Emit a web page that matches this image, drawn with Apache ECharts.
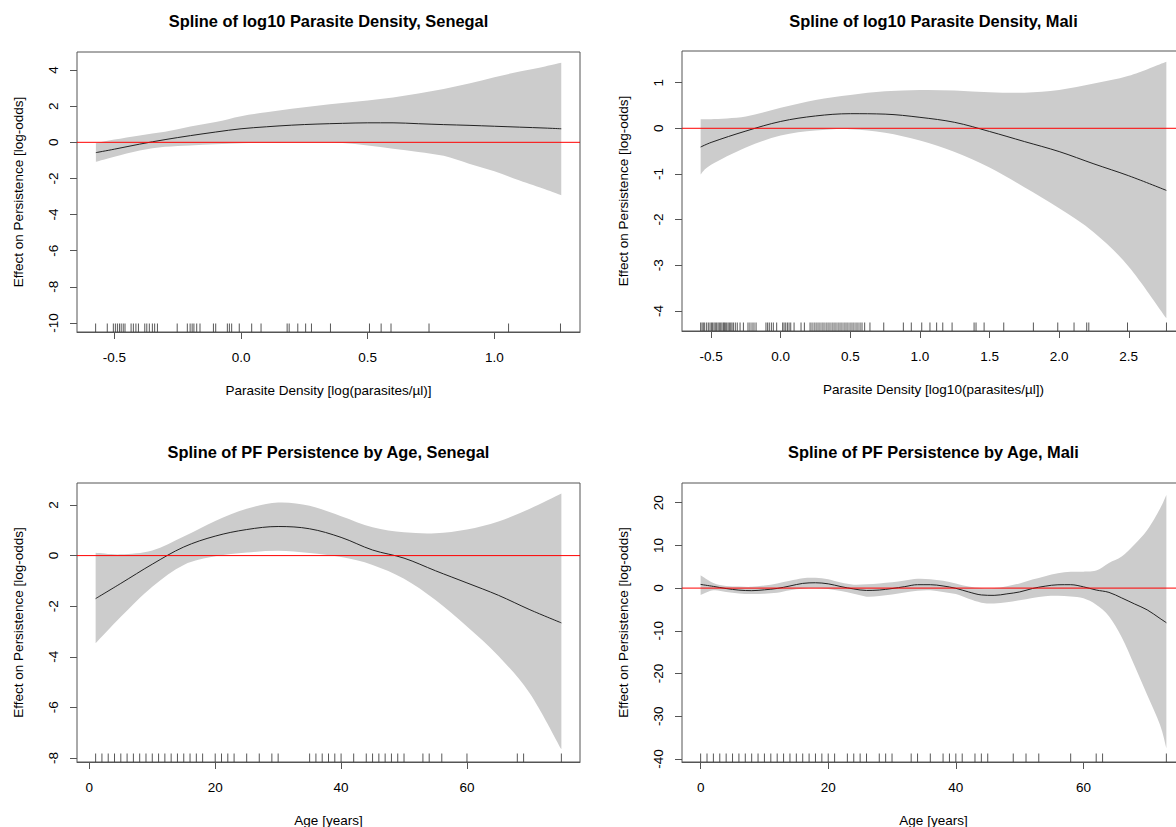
<!DOCTYPE html>
<html><head><meta charset="utf-8">
<script src="https://cdn.jsdelivr.net/npm/echarts@6/dist/echarts.min.js"></script>
<style>html,body{margin:0;padding:0;background:#fff}#c{width:1176px;height:827px}</style>
</head><body><div id="c"></div>
<script>
// ---------- text ----------
const titles = [
  'Spline of log10 Parasite Density, Senegal',
  'Spline of log10 Parasite Density, Mali',
  'Spline of PF Persistence by Age, Senegal',
  'Spline of PF Persistence by Age, Mali'
];
const xNames = [
  'Parasite Density [log(parasites/\u00b5l)]',
  'Parasite Density [log10(parasites/\u00b5l])',
  'Age [years]',
  'Age [years]'
];
const yName = 'Effect on Persistence [log-odds]';

// ---------- panel 1: log10 density, Senegal ----------
const p1X   = [-0.573,-0.5,-0.4,-0.3,-0.2,-0.1,0,0.1,0.2,0.3,0.4,0.5,0.6,0.7,0.8,0.9,1.0,1.1,1.2,1.264];
const p1Fit = [-0.57,-0.38,-0.1,0.15,0.37,0.57,0.75,0.86,0.95,1.01,1.05,1.08,1.08,1.03,0.98,0.94,0.89,0.84,0.79,0.75];
const p1Hi  = [-0.05,0.15,0.38,0.58,0.87,1.12,1.45,1.66,1.86,2.02,2.17,2.32,2.48,2.7,2.95,3.25,3.6,3.92,4.2,4.4];
const p1Lo  = [-1.08,-0.8,-0.45,-0.25,-0.17,-0.1,-0.05,-0.03,-0.01,-0.01,-0.04,-0.18,-0.35,-0.53,-0.75,-1.18,-1.6,-2.12,-2.6,-2.93];
const p1Rug = [-0.574,-0.528,-0.504,-0.496,-0.488,-0.480,-0.473,-0.465,-0.458,-0.434,-0.425,-0.415,-0.405,-0.380,-0.372,-0.362,-0.350,-0.341,-0.330,-0.252,-0.212,-0.201,-0.193,-0.186,-0.175,-0.162,-0.109,-0.100,-0.054,-0.046,-0.037,-0.007,0.042,0.079,0.182,0.190,0.224,0.255,0.278,0.353,0.507,0.553,0.592,0.742,1.056,1.261];
const p1XTicks = [-0.5,0,0.5,1.0];
const p1YTicks = [-10,-8,-6,-4,-2,0,2,4];

// ---------- panel 2: log10 density, Mali ----------
const p2X   = [-0.575,-0.5,-0.25,0,0.25,0.5,0.75,1.0,1.25,1.5,1.75,2.0,2.25,2.5,2.77];
const p2Fit = [-0.41,-0.31,-0.06,0.15,0.27,0.32,0.31,0.24,0.13,-0.07,-0.29,-0.51,-0.78,-1.04,-1.36];
const p2Hi  = [0.2,0.2,0.26,0.45,0.62,0.73,0.81,0.84,0.83,0.79,0.78,0.84,0.98,1.15,1.46];
const p2Lo  = [-1.01,-0.8,-0.42,-0.16,-0.05,-0.02,-0.1,-0.27,-0.52,-0.86,-1.29,-1.75,-2.28,-3.03,-4.16];
const p2Rug = [-0.575,-0.565,-0.556,-0.546,-0.532,-0.520,-0.508,-0.498,-0.489,-0.479,-0.470,-0.460,-0.450,-0.441,-0.431,-0.422,-0.412,-0.405,-0.398,-0.388,-0.378,-0.369,-0.359,-0.350,-0.340,-0.326,-0.312,-0.292,-0.268,
  -0.235,-0.221,-0.206,-0.192,-0.177,-0.106,-0.094,-0.082,-0.067,-0.053,-0.029,0.014,0.024,0.036,0.048,0.060,0.072,0.096,0.146,0.170,
  0.211,0.225,0.240,0.254,0.268,0.282,0.297,0.311,0.326,0.340,0.354,0.369,0.383,0.397,0.412,0.426,0.440,0.455,0.469,0.483,0.498,0.512,0.526,0.541,0.555,0.570,0.584,0.603,0.641,
  0.740,0.881,0.938,1.013,1.072,1.120,1.164,1.231,1.389,1.403,1.461,1.602,1.815,1.990,2.107,2.198,2.213,2.491,2.771];
const p2XTicks = [-0.5,0,0.5,1.0,1.5,2.0,2.5];
const p2YTicks = [-4,-3,-2,-1,0,1];

// ---------- panel 3: age, Senegal ----------
const p3X   = [1,5,10,15,20,25,30,35,40,45,50,55,60,65,70,75];
const p3Fit = [-1.70,-1.1,-0.34,0.34,0.77,1.03,1.15,1.06,0.72,0.22,-0.1,-0.6,-1.08,-1.57,-2.14,-2.66];
const p3Hi  = [0.11,0.05,0.2,0.75,1.37,1.85,2.1,1.97,1.56,1.12,0.92,0.88,1.03,1.35,1.85,2.45];
const p3Lo  = [-3.47,-2.42,-1.23,-0.37,-0.03,0.12,0.19,0.1,-0.06,-0.37,-0.92,-1.76,-2.8,-3.97,-5.45,-7.66];
const p3Rug = [1,2,3,4,5,6,7,8,9,10,11,12,13,14,15,16,17,18,20,21,22,23,25,27,29,30,35,36,37,38,39,40,42,44,45,46,47,48,49,50,53,54,56,60,68,69,75];
const p3XTicks = [0,20,40,60];
const p3YTicks = [-8,-6,-4,-2,0,2];

// ---------- panel 4: age, Mali ----------
const p4X   = [0,2,4,6,8,10,12,14,16,18,20,22,24,26,28,30,32,34,36,38,40,42,44,46,48,50,52,54,56,58,60,62,64,66,68,70,72,73];
const p4Fit = [0.86,0.4,-0.1,-0.47,-0.6,-0.4,-0.08,0.5,1.1,1.25,1.0,0.35,-0.2,-0.55,-0.45,-0.1,0.35,0.8,0.8,0.5,-0.05,-0.9,-1.6,-1.7,-1.35,-0.9,-0.1,0.45,0.78,0.8,0.3,-0.45,-1.0,-2.3,-3.7,-5.1,-7.1,-8.1];
const p4Hi  = [3.0,1.2,0.5,0.35,0.3,0.6,1.1,1.7,2.3,2.4,2.1,1.3,0.8,0.9,1.1,1.35,1.8,2.2,2.1,1.7,1.1,0.35,0.0,0.0,0.45,1.1,2.0,2.8,3.5,3.8,3.85,4.1,5.9,7.4,10.2,13.6,18.6,21.8];
const p4Lo  = [-1.6,-0.5,-0.9,-1.25,-1.4,-1.3,-1.1,-0.5,-0.15,-0.05,-0.2,-0.7,-1.35,-2.0,-1.85,-1.5,-1.05,-0.6,-0.5,-0.9,-1.4,-2.5,-3.4,-3.6,-3.3,-2.85,-2.3,-1.9,-1.8,-1.95,-2.4,-3.9,-6.6,-11.5,-18.1,-25.0,-32.0,-37.5];
const p4Rug = [0,1,2,3,4,5,6,7,8,9,10,11,12,13,14,15,16,17,18,19,20,21,23,24,25,26,28,29,30,33,34,36,38,39,40,41,43,44,45,49,51,53,58,62,63,73];
const p4XTicks = [0,20,40,60];
const p4YTicks = [-40,-30,-20,-10,0,10,20];

// ---------- layout / styling ----------
const FONT = '"Liberation Sans", Arial, Helvetica, sans-serif';
const panels = [
  {x:p1X, fit:p1Fit, hi:p1Hi, lo:p1Lo, rug:p1Rug, xt:p1XTicks, yt:p1YTicks, dec:1,
   xr:[-0.6475,1.338], yr:[-10.5,5.0], rect:{left:77, top:52, width:503, height:280}},
  {x:p2X, fit:p2Fit, hi:p2Hi, lo:p2Lo, rug:p2Rug, xt:p2XTicks, yt:p2YTicks, dec:1,
   xr:[-0.709,2.904], yr:[-4.44,1.693], rect:{left:682, top:51, width:503, height:280}},
  {x:p3X, fit:p3Fit, hi:p3Hi, lo:p3Lo, rug:p3Rug, xt:p3XTicks, yt:p3YTicks, dec:0,
   xr:[-1.96,77.96], yr:[-8.16,2.87], rect:{left:77, top:483, width:503, height:279}},
  {x:p4X, fit:p4Fit, hi:p4Hi, lo:p4Lo, rug:p4Rug, xt:p4XTicks, yt:p4YTicks, dec:0,
   xr:[-2.92,75.92], yr:[-40.7,24.6], rect:{left:682, top:483, width:503, height:279}}
];

const grid = [], xAxis = [], yAxis = [], series = [], title = [];
const txt = (size, weight) => ({fontFamily: FONT, fontSize: size, color: '#000', fontWeight: weight || 'normal'});

// Catmull-Rom segments through screen points (rendering only)
function crSegments(pts) {
  let d = '';
  for (let k = 0; k < pts.length - 1; k++) {
    const p0 = pts[Math.max(k - 1, 0)], p1 = pts[k], p2 = pts[k + 1], p3 = pts[Math.min(k + 2, pts.length - 1)];
    const c1 = [p1[0] + (p2[0] - p0[0]) / 6, p1[1] + (p2[1] - p0[1]) / 6];
    const c2 = [p2[0] - (p3[0] - p1[0]) / 6, p2[1] - (p3[1] - p1[1]) / 6];
    d += ' C' + c1[0] + ',' + c1[1] + ' ' + c2[0] + ',' + c2[1] + ' ' + p2[0] + ',' + p2[1];
  }
  return d;
}

panels.forEach((p, i) => {
  grid.push(Object.assign({show:true, borderColor:'#555', borderWidth:1, backgroundColor:'transparent',
    containLabel:false, outerBoundsMode:'none'}, p.rect));
  title.push({text: titles[i], left: p.rect.left + p.rect.width/2, top: (i < 2 ? 12 : 443),
    textAlign:'center', padding:0, textStyle: Object.assign(txt(16.4,'bold'), {lineHeight:17})});
  xAxis.push({type:'value', gridIndex:i, min:p.xr[0], max:p.xr[1], position:'bottom', z:3,
    axisLine:{show:true, onZero:false, lineStyle:{color:'#555', width:1}}, splitLine:{show:false},
    axisTick:{show:true, inside:false, length:7, lineStyle:{color:'#555', width:1}, customValues:p.xt},
    axisLabel:Object.assign({show:true, margin:18, customValues:p.xt,
      formatter: v => p.dec ? Number(v).toFixed(p.dec) : String(Math.round(v))}, txt(13.5)),
    name:xNames[i], nameLocation:'middle', nameGap:51, nameTextStyle:Object.assign(txt(13.5), {lineHeight:15})});
  yAxis.push({type:'value', gridIndex:i, min:p.yr[0], max:p.yr[1], position:'left',
    axisLine:{show:false, onZero:false}, splitLine:{show:false},
    axisTick:{show:true, inside:false, length:7, lineStyle:{color:'#555', width:1}, customValues:p.yt},
    axisLabel:Object.assign({show:true, margin:17, rotate:90, customValues:p.yt,
      formatter: v => String(Math.round(v))}, txt(13.5)),
    name:yName, nameLocation:'middle', nameGap:51, nameRotate:90, nameTextStyle:Object.assign(txt(13.5), {lineHeight:15})});

  // confidence band as one closed smooth shape, positioned with the axes' scales
  series.push({type:'custom', xAxisIndex:i, yAxisIndex:i, silent:true, clip:false, z:1,
    data:[[p.x[0], p.hi[0]]],
    renderItem: (params, api) => {
      const up = p.x.map((v,k) => api.coord([v, p.hi[k]]));
      const lo = p.x.map((v,k) => api.coord([v, p.lo[k]])).reverse();
      const d = 'M' + up[0][0] + ',' + up[0][1] + crSegments(up) +
                ' L' + lo[0][0] + ',' + lo[0][1] + crSegments(lo) + ' Z';
      return {type:'path', shape:{pathData:d}, style:{fill:'#cccccc', stroke:null}};
    }});
  // fitted spline
  series.push({type:'line', xAxisIndex:i, yAxisIndex:i, data:p.x.map((v,k)=>[v, p.fit[k]]),
    symbol:'none', smooth:0.35, silent:true, lineStyle:{color:'#222', width:1}, z:3});
  // rug
  series.push({type:'scatter', xAxisIndex:i, yAxisIndex:i, clip:false, silent:true,
    data:p.rug.map(v => [v, p.yr[0]]), symbol:'rect', symbolSize:[1,8.4], symbolOffset:[0,-4.2],
    itemStyle:{color:'#3a3a3a', opacity:0.85}, z:5});
  // zero reference line (drawn last, as abline in R)
  series.push({type:'line', xAxisIndex:i, yAxisIndex:i, data:[[p.xr[0],0],[p.xr[1],0]],
    symbol:'none', silent:true, clip:false, lineStyle:{color:'red', width:1, opacity:1},
    itemStyle:{color:'red'}, z:10, zlevel:0});
});

const chart = echarts.init(document.getElementById('c'), null, {renderer:'svg'});
chart.setOption({animation:false, backgroundColor:'#fff', title, grid, xAxis, yAxis, series});
</script>
</body></html>
